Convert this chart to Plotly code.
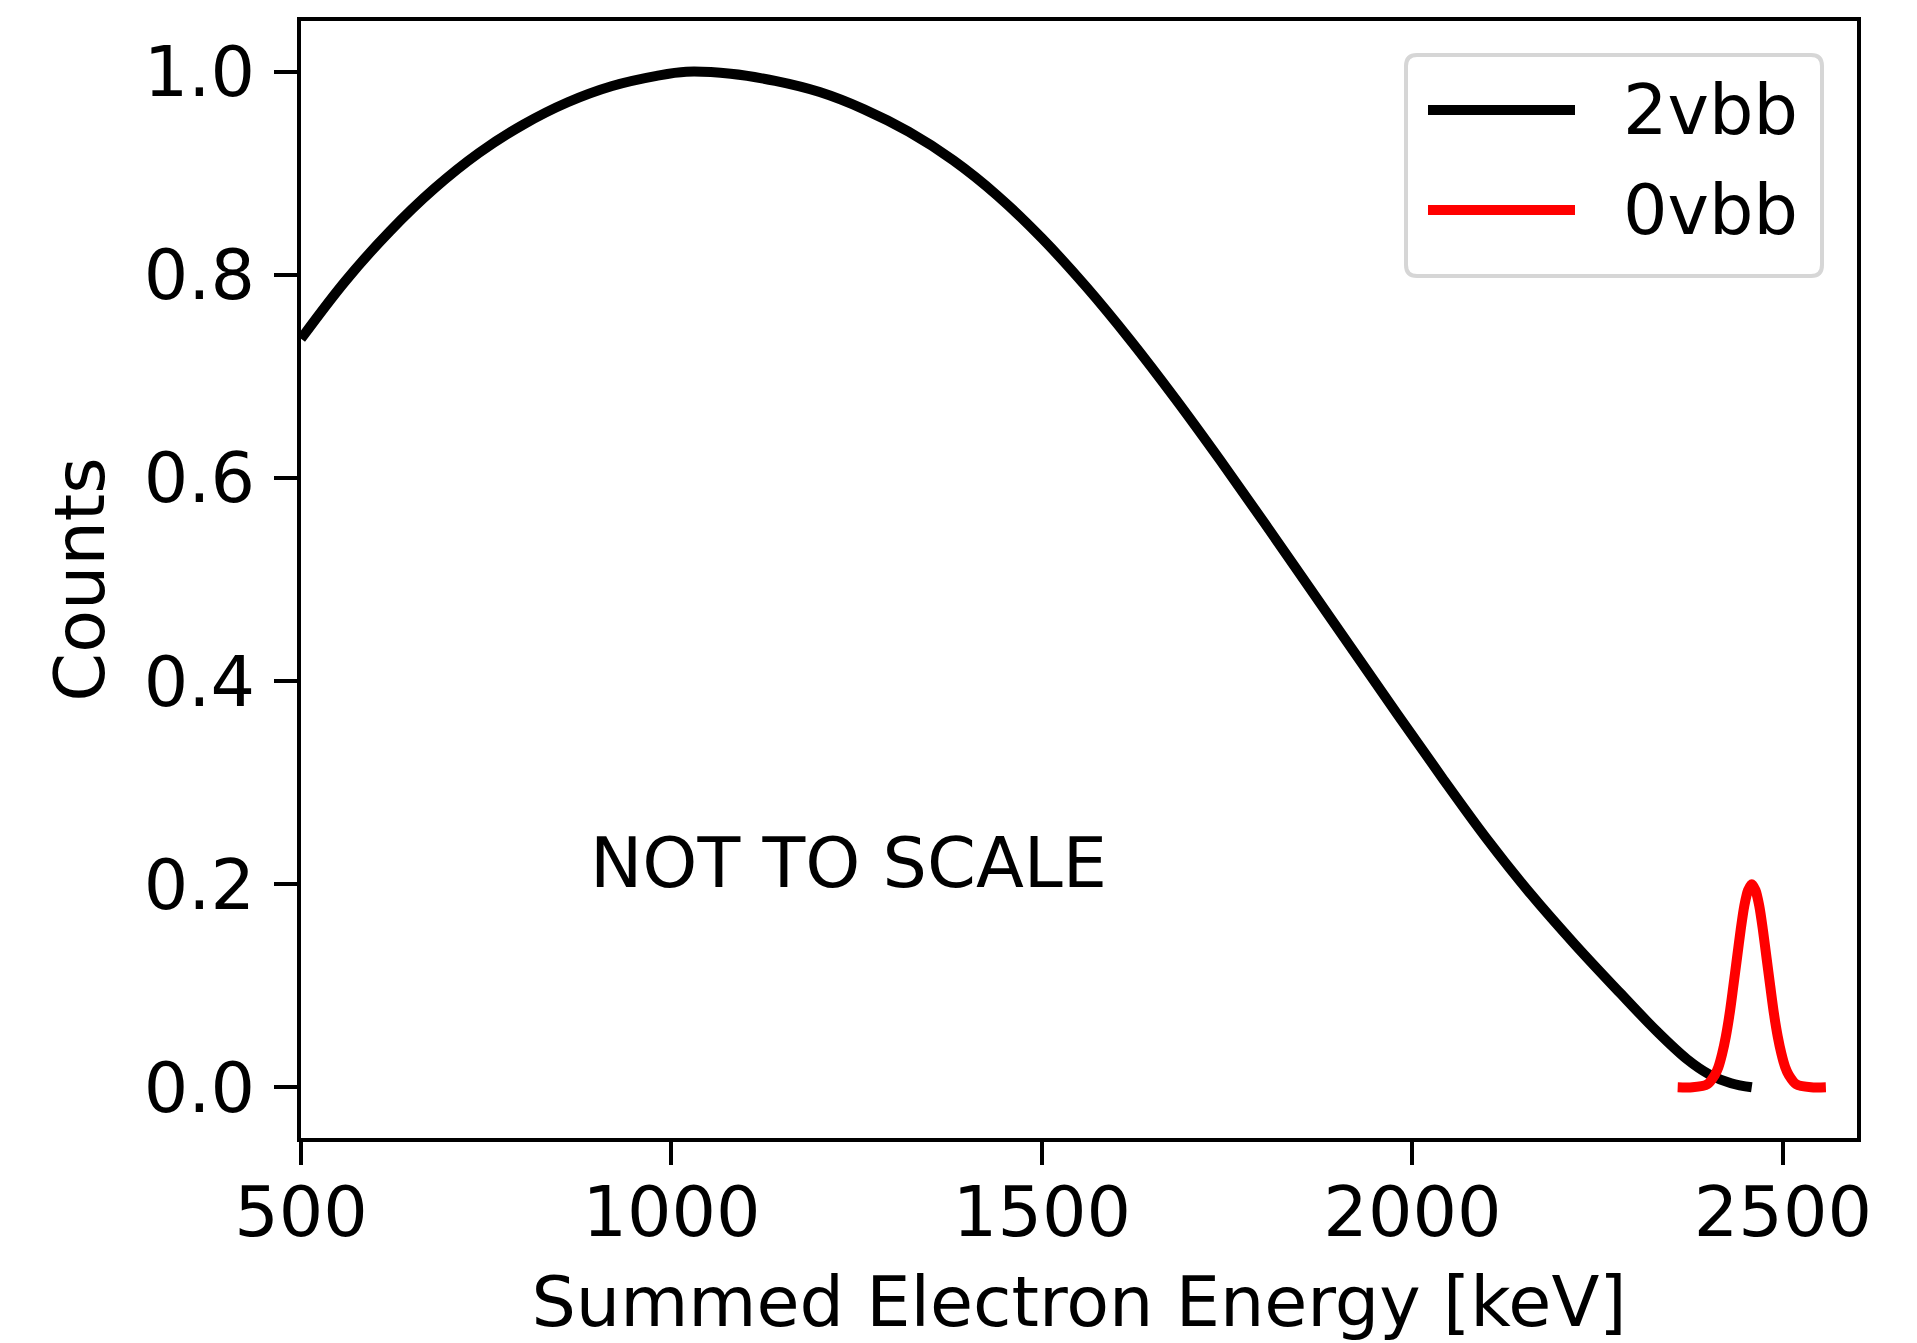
import plotly.graph_objects as go

# ---- data -------------------------------------------------------------
# two-neutrino double beta spectrum (summed electron energy, keV)
energy_2v = [500, 560, 620, 680, 740, 800, 860, 920, 980, 1020, 1080, 1140,
             1200, 1260, 1320, 1380, 1440, 1500, 1560, 1620, 1680, 1740,
             1800, 1860, 1920, 1980, 2040, 2100, 2160, 2220, 2280, 2330,
             2370, 2400, 2430, 2458]
counts_2v = [0.737, 0.794, 0.843, 0.885, 0.920, 0.948, 0.970, 0.986, 0.996,
             1.000, 0.998, 0.991, 0.980, 0.963, 0.941, 0.913, 0.878, 0.836,
             0.788, 0.735, 0.678, 0.618, 0.556, 0.493, 0.430, 0.367, 0.305,
             0.245, 0.190, 0.140, 0.093, 0.055, 0.028, 0.013, 0.004, 0.000]

# neutrinoless peak at the Q-value
energy_0v = [2358, 2378, 2398, 2408, 2413, 2418, 2423, 2428, 2433, 2438,
             2443, 2448, 2453, 2458, 2463, 2468, 2473, 2478, 2483, 2488,
             2493, 2498, 2503, 2508, 2518, 2538, 2558]
counts_0v = [0.000, 0.000, 0.003, 0.012, 0.020, 0.033, 0.050, 0.072, 0.099,
             0.127, 0.155, 0.179, 0.194, 0.200, 0.194, 0.179, 0.155, 0.127,
             0.099, 0.072, 0.050, 0.033, 0.020, 0.012, 0.003, 0.000, 0.000]

series_names = ["2vbb", "0vbb"]
series_colors = ["#000000", "#ff0000"]

x_ticks = [500, 1000, 1500, 2000, 2500]
y_ticks = [0.0, 0.2, 0.4, 0.6, 0.8, 1.0]
y_tick_text = ["0.0", "0.2", "0.4", "0.6", "0.8", "1.0"]

x_title = "Summed Electron Energy [keV]"
y_title = "Counts"
note_text = "NOT TO SCALE"

# ---- layout geometry (pixels) -----------------------------------------
W, H = 1917, 1343
ML, MR, MT, MB = 301, 60, 21, 205
PW, PH = W - ML - MR, H - MT - MB
FONT = "DejaVu Sans"
FS = 70
LW = 10


def paper_x(px):
    return (px - ML) / PW


def paper_y(py):
    return (H - MB - py) / PH


fig = go.Figure()
fig.add_trace(go.Scatter(
    x=energy_2v, y=counts_2v, mode="lines", name=series_names[0],
    line=dict(color=series_colors[0], width=LW, shape="spline", smoothing=1.0),
))
fig.add_trace(go.Scatter(
    x=energy_0v, y=counts_0v, mode="lines", name=series_names[1],
    line=dict(color=series_colors[1], width=LW, shape="spline", smoothing=0.8),
))

axis_common = dict(
    showline=True, linewidth=4, linecolor="black", mirror=True,
    ticks="outside", ticklen=23, tickwidth=4, tickcolor="black",
    showgrid=False, zeroline=False, automargin=False,
    tickfont=dict(family=FONT, size=FS, color="black"),
)

fig.update_xaxes(
    range=[500, 2600], tickvals=x_ticks, ticklabelstandoff=-13,
    title=dict(text=x_title, standoff=56,
               font=dict(family=FONT, size=FS, color="black")),
    **axis_common,
)
fig.update_yaxes(
    range=[-0.05, 1.05], tickvals=y_ticks, ticktext=y_tick_text,
    ticklabelstandoff=5,
    title=dict(text=y_title, standoff=17,
               font=dict(family=FONT, size=FS, color="black")),
    **axis_common,
)

# ---- legend box drawn in paper space -----------------------------------
bx0, bx1, by0, by1 = paper_x(1406), paper_x(1822), paper_y(55), paper_y(276)
rx, ry = 11 / PW, 11 / PH
box_path = (
    f"M {bx0 + rx},{by0} L {bx1 - rx},{by0} Q {bx1},{by0} {bx1},{by0 - ry} "
    f"L {bx1},{by1 + ry} Q {bx1},{by1} {bx1 - rx},{by1} "
    f"L {bx0 + rx},{by1} Q {bx0},{by1} {bx0},{by1 + ry} "
    f"L {bx0},{by0 - ry} Q {bx0},{by0} {bx0 + rx},{by0} Z"
)
shapes = [dict(type="path", path=box_path, xref="paper", yref="paper",
               fillcolor="rgba(255,255,255,0.8)",
               line=dict(color="#d6d6d6", width=4), layer="above")]
annotations = []
for i, (name, color) in enumerate(zip(series_names, series_colors)):
    row_y = 110 + 100 * i
    shapes.append(dict(type="line", xref="paper", yref="paper",
                       x0=paper_x(1428), x1=paper_x(1575),
                       y0=paper_y(row_y), y1=paper_y(row_y),
                       line=dict(color=color, width=LW), layer="above"))
    annotations.append(dict(text=name, xref="paper", yref="paper",
                            x=paper_x(1621), y=paper_y(row_y),
                            xanchor="left", yanchor="middle", showarrow=False,
                            font=dict(family=FONT, size=FS, color="black")))

annotations.append(dict(text=note_text, xref="x", yref="y", x=887, y=0.221,
                        xanchor="left", yanchor="middle", showarrow=False,
                        font=dict(family=FONT, size=FS, color="black")))

fig.update_layout(
    width=W, height=H, template="none",
    margin=dict(l=ML, r=MR, t=MT, b=MB, pad=0),
    paper_bgcolor="white", plot_bgcolor="white",
    showlegend=False,
    font=dict(family=FONT, size=FS, color="black"),
    shapes=shapes, annotations=annotations,
)

fig.write_html("out.html")
